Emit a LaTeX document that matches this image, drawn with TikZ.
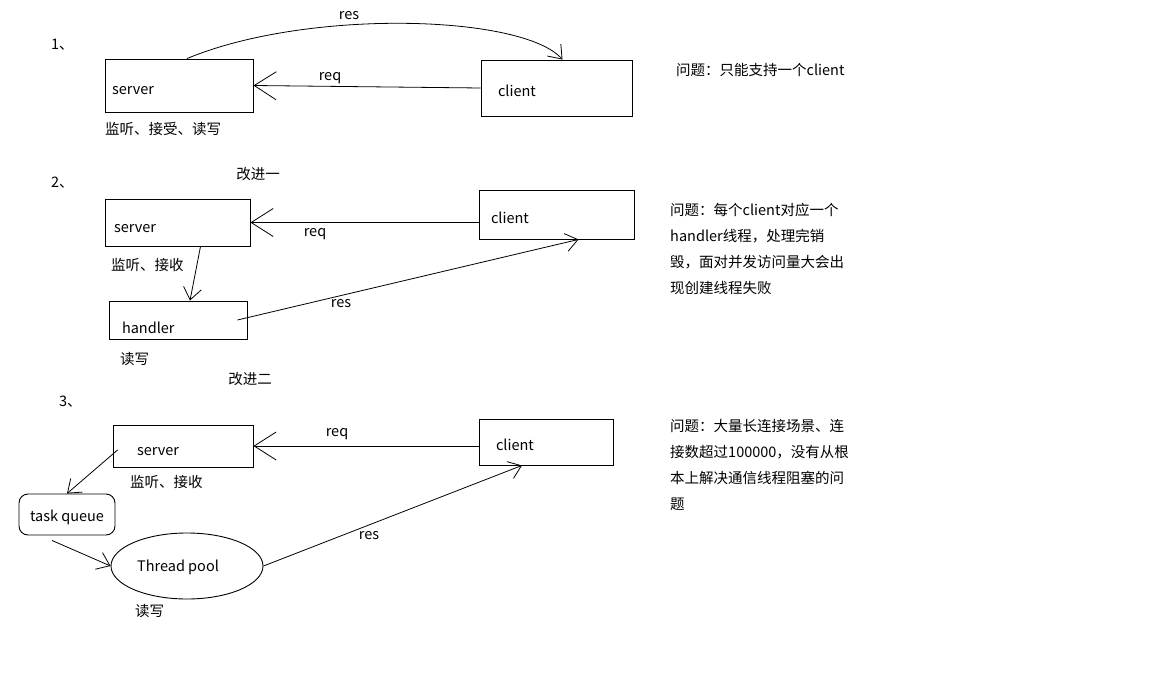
\documentclass[tikz,border=0pt]{standalone}
\usepackage{fontspec}
\setmainfont{Noto Sans CJK SC}
\usetikzlibrary{arrows.meta,shapes.geometric,calc}

\tikzset{
  txt/.style={inner sep=0pt, anchor=west},
  lbl/.style={inner sep=0pt},
  box/.style={draw, line width=0.9pt, inner ysep=0pt, align=left, text depth=0pt},
  conn/.style={line width=0.8pt, -{Straight Barb[length=12pt,width=18pt]}},
  bigconn/.style={line width=0.8pt, -{Straight Barb[length=22pt,width=28pt]}},
}

\begin{document}
\begin{tikzpicture}[x=1pt, y=-1pt, font=\fontsize{14.5}{26}\selectfont]
\useasboundingbox (0,0) rectangle (1156,698);
% 1:
\node[txt] (numA) at (51,45) {1、};
\node[box, inner xsep=7pt, text width=134pt, minimum height=53pt, text height=19pt] (srvA) at (179,85.5) {server};
\node[box, inner xsep=17pt, text width=117pt, minimum height=56pt, text height=17pt] (cliA) at (556.5,88) {client};
\draw[bigconn] (cliA.west) -- (srvA.east);
\node[lbl] (reqA) at (330,78) {req};
\draw[conn] ($(srvA.north)+(8,0)$) .. controls +(120,-50) and +(-40,-45) .. ($(cliA.north)+(6,0)$);
\node[lbl] (resA) at (349,16) {res};
\node[txt] (noteA) at (105,129) {监听、接受、读写};
\node[txt] (qA) at (676,70) {问题：只能支持一个client};
% 2:
\node[txt] (numB) at (51,183) {2、};
\node[lbl] (impB) at (258,174) {改进一};
\node[box, inner xsep=9pt, text width=127pt, minimum height=47pt, text height=19pt] (srvB) at (177.5,222.5) {server};
\node[box, inner xsep=12pt, text width=131pt, minimum height=49pt, text height=18pt] (cliB) at (556.5,214.5) {client};
\node[box, inner xsep=13pt, text width=112pt, minimum height=38pt, text height=26pt] (hdl) at (178,320) {handler};
\draw[bigconn] (cliB.west |- srvB.east) -- (srvB.east);
\node[lbl] (reqB) at (315,234) {req};
\draw[conn] ($(srvB.south)+(23,0)$) -- ($(hdl.north)+(12,0)$);
\draw[conn] ($(hdl.east)+(-10,0)$) -- ($(cliB.south)+(22,0)$);
\node[lbl] (resB) at (341,304) {res};
\node[txt] (noteB) at (111,265) {监听、接收};
\node[txt] (rwB) at (120,359) {读写};
\node[txt, anchor=north west, align=left] (qB) at (670,203) {问题：每个client对应一个\\handler线程，处理完销\\毁，面对并发访问量大会出\\现创建线程失败};
% 3:
\node[lbl] (impC) at (250,379) {改进二};
\node[txt] (numC) at (59,402) {3、};
\node[box, inner xsep=24pt, text width=92pt, minimum height=42pt, text height=18pt] (srvC) at (183,446) {server};
\node[box, inner xsep=17pt, text width=100pt, minimum height=46pt, text height=16pt] (cliC) at (546,442) {client};
\node[draw, line width=0.9pt, rounded corners=9pt, minimum width=96pt, minimum height=41pt, inner sep=0pt, text height=13pt, text depth=0pt] (tq) at (67,514.5) {task queue};
\node[draw, line width=0.9pt, ellipse, minimum width=152pt, minimum height=66pt, inner sep=0pt] (pool) at (187,566) {};
\node[lbl] (poolt) at (178,567) {Thread pool};
\draw[bigconn] (cliC.west |- srvC.east) -- (srvC.east);
\node[lbl] (reqC) at (337,434) {req};
\draw[conn] ($(srvC.west)+(5,4)$) -- (tq.north);
\draw[conn] ($(tq.south)+(-15,5)$) -- (pool.west);
\draw[conn] (pool.east) -- ($(cliC.south)+(-24,0)$);
\node[lbl] (resC) at (369,536) {res};
\node[txt] (noteC) at (130,482) {监听、接收};
\node[txt] (rwC) at (135,611) {读写};
\node[txt, anchor=north west, align=left] (qC) at (670,419) {问题：大量长连接场景、连\\接数超过100000，没有从根\\本上解决通信线程阻塞的问\\题};
\end{tikzpicture}
\end{document}
